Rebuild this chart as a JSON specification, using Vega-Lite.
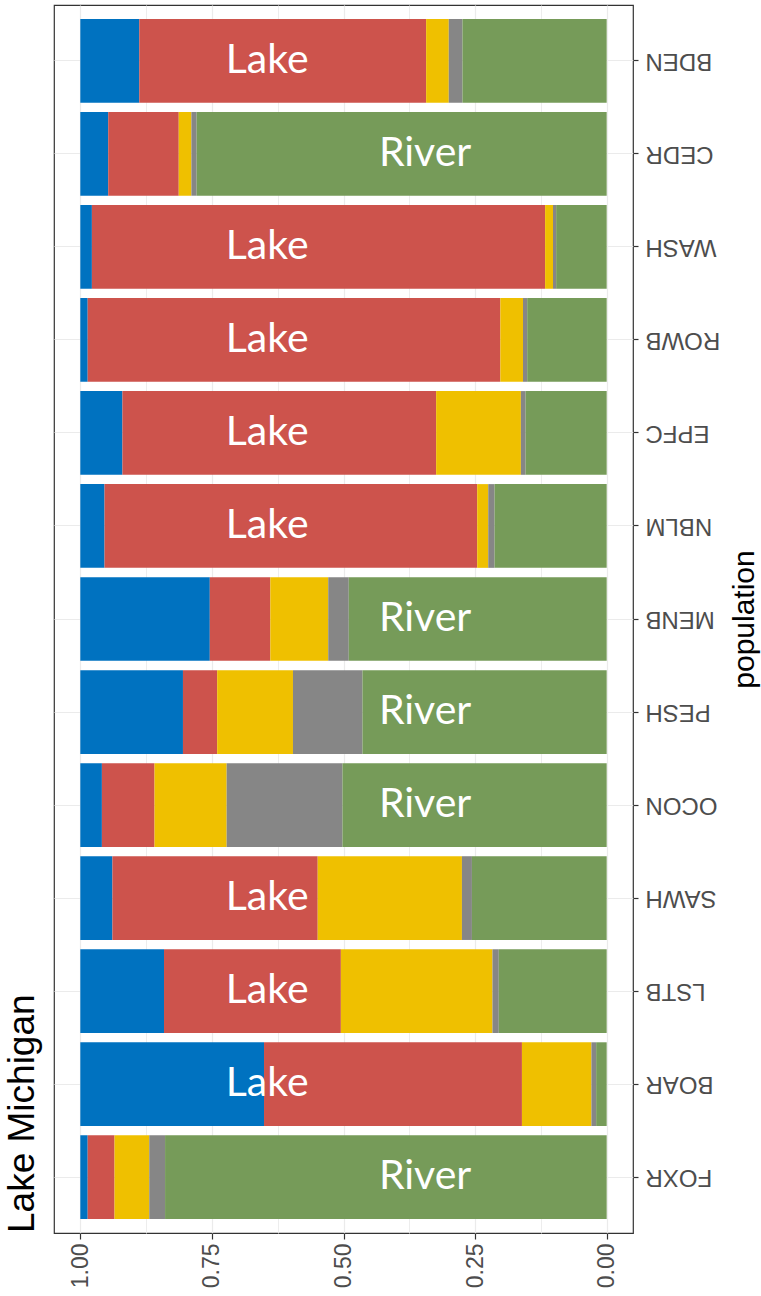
{
  "$schema": "https://vega.github.io/schema/vega-lite/v6.json",
  "width": 579,
  "height": 1228,
  "autosize": {"type": "none"},
  "padding": {"left": 54, "top": 5, "right": 128, "bottom": 63},
  "background": "white",
  "title": {
    "text": "Lake Michigan",
    "orient": "left",
    "anchor": "start",
    "frame": "group",
    "font": "Liberation Sans",
    "fontSize": 37,
    "fontWeight": "normal",
    "color": "black",
    "offset": 12
  },
  "config": {
    "view": {"stroke": "#333333", "strokeWidth": 1.2},
    "axis": {"labelFont": "Liberation Sans", "titleFont": "Liberation Sans"}
  },
  "datasets": {
    "props": [
      {"population": "BDEN", "cluster": "K5", "value": 0.112},
      {"population": "BDEN", "cluster": "K4", "value": 0.545},
      {"population": "BDEN", "cluster": "K3", "value": 0.043},
      {"population": "BDEN", "cluster": "K2", "value": 0.026},
      {"population": "BDEN", "cluster": "K1", "value": 0.274},
      {"population": "CEDR", "cluster": "K5", "value": 0.053},
      {"population": "CEDR", "cluster": "K4", "value": 0.134},
      {"population": "CEDR", "cluster": "K3", "value": 0.024},
      {"population": "CEDR", "cluster": "K2", "value": 0.010},
      {"population": "CEDR", "cluster": "K1", "value": 0.779},
      {"population": "WASH", "cluster": "K5", "value": 0.022},
      {"population": "WASH", "cluster": "K4", "value": 0.861},
      {"population": "WASH", "cluster": "K3", "value": 0.015},
      {"population": "WASH", "cluster": "K2", "value": 0.006},
      {"population": "WASH", "cluster": "K1", "value": 0.096},
      {"population": "ROWB", "cluster": "K5", "value": 0.014},
      {"population": "ROWB", "cluster": "K4", "value": 0.784},
      {"population": "ROWB", "cluster": "K3", "value": 0.043},
      {"population": "ROWB", "cluster": "K2", "value": 0.008},
      {"population": "ROWB", "cluster": "K1", "value": 0.151},
      {"population": "EPFC", "cluster": "K5", "value": 0.080},
      {"population": "EPFC", "cluster": "K4", "value": 0.596},
      {"population": "EPFC", "cluster": "K3", "value": 0.161},
      {"population": "EPFC", "cluster": "K2", "value": 0.009},
      {"population": "EPFC", "cluster": "K1", "value": 0.154},
      {"population": "NBLM", "cluster": "K5", "value": 0.046},
      {"population": "NBLM", "cluster": "K4", "value": 0.708},
      {"population": "NBLM", "cluster": "K3", "value": 0.021},
      {"population": "NBLM", "cluster": "K2", "value": 0.012},
      {"population": "NBLM", "cluster": "K1", "value": 0.213},
      {"population": "MENB", "cluster": "K5", "value": 0.246},
      {"population": "MENB", "cluster": "K4", "value": 0.115},
      {"population": "MENB", "cluster": "K3", "value": 0.110},
      {"population": "MENB", "cluster": "K2", "value": 0.039},
      {"population": "MENB", "cluster": "K1", "value": 0.490},
      {"population": "PESH", "cluster": "K5", "value": 0.195},
      {"population": "PESH", "cluster": "K4", "value": 0.065},
      {"population": "PESH", "cluster": "K3", "value": 0.144},
      {"population": "PESH", "cluster": "K2", "value": 0.132},
      {"population": "PESH", "cluster": "K1", "value": 0.464},
      {"population": "OCON", "cluster": "K5", "value": 0.041},
      {"population": "OCON", "cluster": "K4", "value": 0.100},
      {"population": "OCON", "cluster": "K3", "value": 0.137},
      {"population": "OCON", "cluster": "K2", "value": 0.220},
      {"population": "OCON", "cluster": "K1", "value": 0.502},
      {"population": "SAWH", "cluster": "K5", "value": 0.061},
      {"population": "SAWH", "cluster": "K4", "value": 0.390},
      {"population": "SAWH", "cluster": "K3", "value": 0.274},
      {"population": "SAWH", "cluster": "K2", "value": 0.019},
      {"population": "SAWH", "cluster": "K1", "value": 0.256},
      {"population": "LSTB", "cluster": "K5", "value": 0.159},
      {"population": "LSTB", "cluster": "K4", "value": 0.336},
      {"population": "LSTB", "cluster": "K3", "value": 0.288},
      {"population": "LSTB", "cluster": "K2", "value": 0.012},
      {"population": "LSTB", "cluster": "K1", "value": 0.205},
      {"population": "BOAR", "cluster": "K5", "value": 0.349},
      {"population": "BOAR", "cluster": "K4", "value": 0.490},
      {"population": "BOAR", "cluster": "K3", "value": 0.132},
      {"population": "BOAR", "cluster": "K2", "value": 0.009},
      {"population": "BOAR", "cluster": "K1", "value": 0.020},
      {"population": "FOXR", "cluster": "K5", "value": 0.014},
      {"population": "FOXR", "cluster": "K4", "value": 0.051},
      {"population": "FOXR", "cluster": "K3", "value": 0.066},
      {"population": "FOXR", "cluster": "K2", "value": 0.030},
      {"population": "FOXR", "cluster": "K1", "value": 0.839}
    ],
    "labels": [
      {"population": "BDEN", "habitat": "Lake", "pos": 0.645},
      {"population": "CEDR", "habitat": "River", "pos": 0.345},
      {"population": "WASH", "habitat": "Lake", "pos": 0.645},
      {"population": "ROWB", "habitat": "Lake", "pos": 0.645},
      {"population": "EPFC", "habitat": "Lake", "pos": 0.645},
      {"population": "NBLM", "habitat": "Lake", "pos": 0.645},
      {"population": "MENB", "habitat": "River", "pos": 0.345},
      {"population": "PESH", "habitat": "River", "pos": 0.345},
      {"population": "OCON", "habitat": "River", "pos": 0.345},
      {"population": "SAWH", "habitat": "Lake", "pos": 0.645},
      {"population": "LSTB", "habitat": "Lake", "pos": 0.645},
      {"population": "BOAR", "habitat": "Lake", "pos": 0.645},
      {"population": "FOXR", "habitat": "River", "pos": 0.345}
    ]
  },
  "layer": [
    {
      "data": {"name": "props"},
      "mark": {"type": "bar"},
      "encoding": {
        "y": {
          "field": "population",
          "type": "nominal",
          "scale": {
            "domain": ["BDEN", "CEDR", "WASH", "ROWB", "EPFC", "NBLM", "MENB", "PESH", "OCON", "SAWH", "LSTB", "BOAR", "FOXR"],
            "paddingInner": 0.1,
            "paddingOuter": 0.15
          },
          "axis": {
            "orient": "right",
            "bandPosition": 0.5,
            "grid": true,
            "gridColor": "#EBEBEB",
            "gridWidth": 1.2,
            "domain": false,
            "ticks": true,
            "tickColor": "#333333",
            "tickSize": 5,
            "tickWidth": 1.2,
            "labelAngle": 180,
            "labelAlign": "right",
            "labelBaseline": "middle",
            "labelFontSize": 24,
            "labelColor": "#4D4D4D",
            "labelPadding": 7,
            "title": "population",
            "titleAngle": 270,
            "titleFontSize": 30,
            "titleFontWeight": "normal",
            "titleColor": "#000000",
            "titlePadding": 40
          }
        },
        "x": {
          "field": "value",
          "type": "quantitative",
          "stack": "zero",
          "scale": {"domain": [-0.05, 1.05], "reverse": true, "nice": false, "zero": false},
          "axis": {
            "orient": "bottom",
            "values": [0, 0.25, 0.5, 0.75, 1],
            "format": ".2f",
            "grid": true,
            "gridColor": "#EBEBEB",
            "gridWidth": 1.2,
            "domain": false,
            "tickColor": "#333333",
            "tickSize": 6,
            "tickWidth": 1.2,
            "labelAngle": 270,
            "labelAlign": "right",
            "labelBaseline": "middle",
            "labelFontSize": 23,
            "labelColor": "#4D4D4D",
            "labelPadding": 4,
            "title": null
          }
        },
        "color": {
          "field": "cluster",
          "type": "nominal",
          "scale": {
            "domain": ["K1", "K2", "K3", "K4", "K5"],
            "range": ["#769B59", "#868686", "#EFC000", "#CD534C", "#0072C0"]
          },
          "legend": null
        },
        "order": {"field": "cluster", "sort": "ascending"}
      }
    },
    {
      "data": {"name": "labels"},
      "mark": {"type": "text", "font": "Lato", "fontSize": 41, "color": "white", "align": "center", "baseline": "middle"},
      "encoding": {
        "y": {"field": "population", "type": "nominal"},
        "x": {
          "field": "pos",
          "type": "quantitative",
          "axis": {
            "orient": "top",
            "values": [0.125, 0.375, 0.625, 0.875],
            "grid": true,
            "gridColor": "#EBEBEB",
            "gridWidth": 0.9,
            "domain": false,
            "ticks": false,
            "labels": false,
            "title": null
          }
        },
        "text": {"field": "habitat"}
      }
    }
  ],
  "resolve": {"axis": {"x": "independent"}}
}
